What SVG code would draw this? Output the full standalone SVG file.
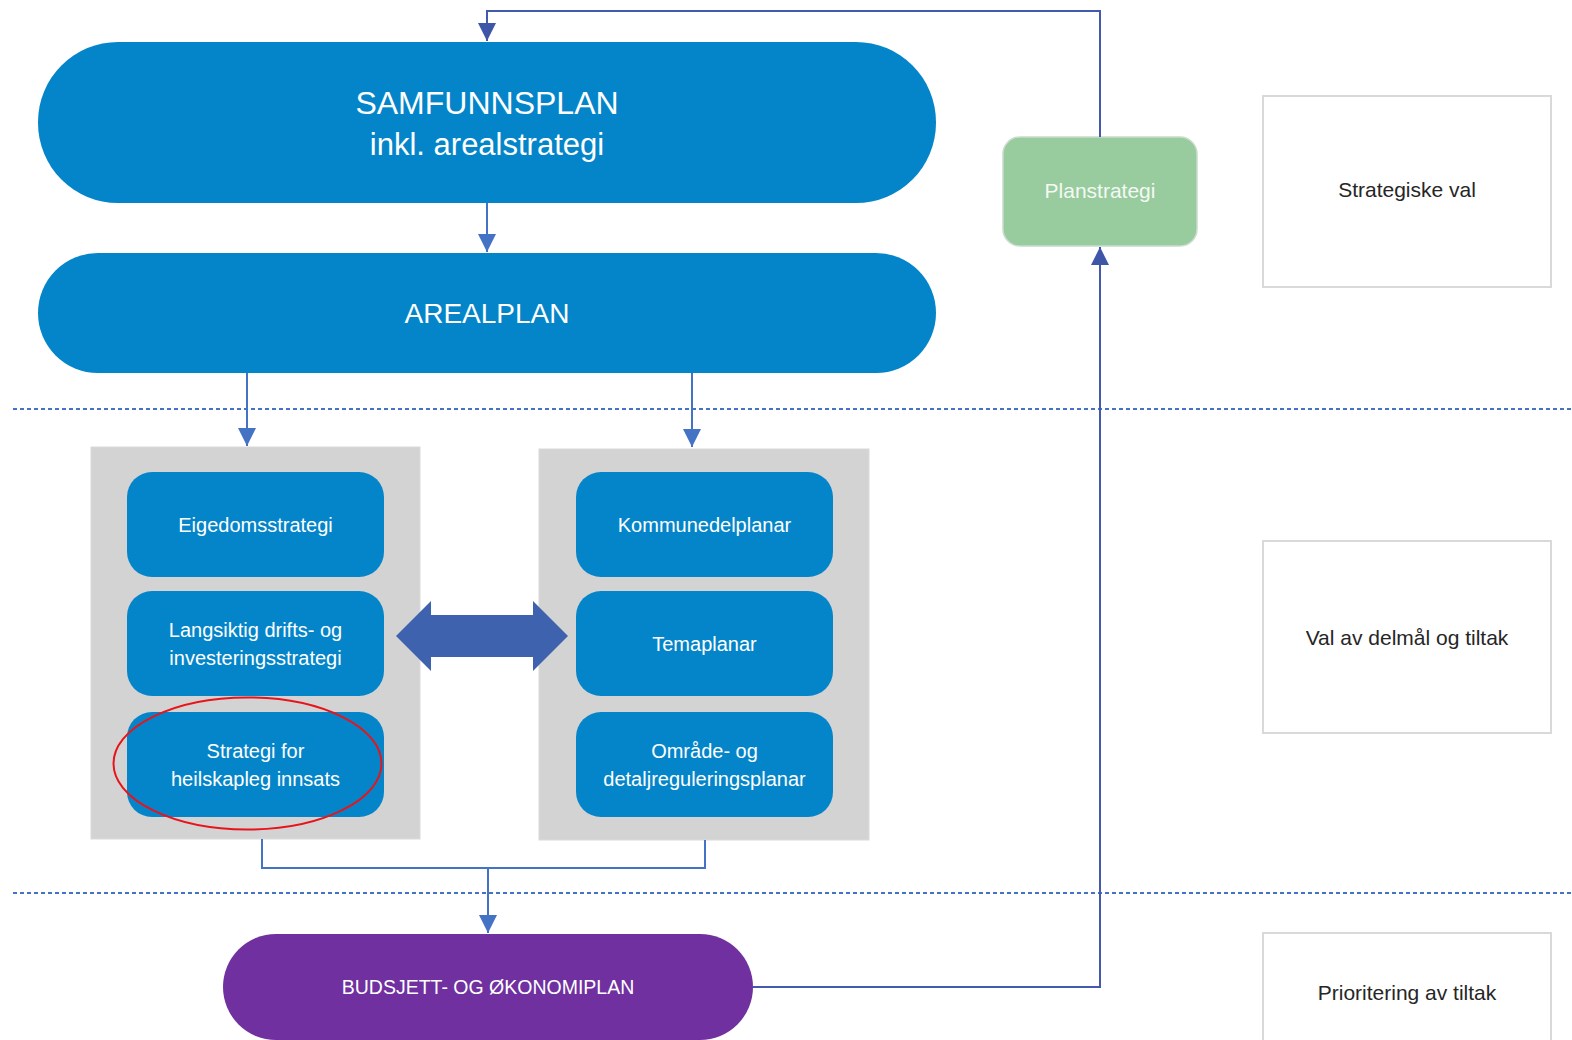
<svg xmlns="http://www.w3.org/2000/svg" width="1572" height="1040" viewBox="0 0 1572 1040">
<style>
text{font-family:"Liberation Sans",Arial,sans-serif;text-anchor:middle}
.pill{fill:#0485C9}
.inner{fill:#0485C9}
.grey{fill:#D3D3D3;stroke:#DADADA;stroke-width:1}
.wt{fill:#FFFFFF}
.info{fill:#FFFFFF;stroke:#D9D9D9;stroke-width:2}
.it{fill:#262626;font-size:21px}
.ib{font-size:20px}
.con{fill:none;stroke:#4472C4;stroke-width:2}
.loop{fill:none;stroke:#4259AE;stroke-width:2}
.dash{fill:none;stroke:#4472C4;stroke-width:2;stroke-dasharray:4 3}
</style>
<defs>
<marker id="ah" markerUnits="userSpaceOnUse" markerWidth="18" markerHeight="18" refX="18" refY="9" orient="auto"><path d="M0,0 L18,9 L0,18 z" fill="#4472C4"/></marker>
<marker id="ahd" markerUnits="userSpaceOnUse" markerWidth="18" markerHeight="18" refX="18" refY="9" orient="auto"><path d="M0,0 L18,9 L0,18 z" fill="#3F55A8"/></marker>
</defs>
<rect width="1572" height="1040" fill="#FFFFFF"/>

<g id="separators">
<line class="dash" x1="13" y1="409" x2="1572" y2="409"/>
<line class="dash" x1="13" y1="893" x2="1572" y2="893"/>
</g>

<g id="samfunnsplan">
<rect class="pill" x="38" y="42" width="898" height="161" rx="80" ry="80"/>
<text class="wt" x="487" y="114" font-size="32">SAMFUNNSPLAN</text>
<text class="wt" x="487" y="155" font-size="31">inkl. arealstrategi</text>
</g>

<g id="arealplan">
<rect class="pill" x="38" y="253" width="898" height="120" rx="60" ry="60"/>
<text class="wt" x="487" y="323" font-size="28">AREALPLAN</text>
</g>

<g id="planstrategi">
<rect x="1003" y="137" width="194" height="109" rx="17" fill="#98CB9E" stroke="#C9DCCB" stroke-width="1.5"/>
<text x="1100" y="198" font-size="21" fill="#F4F9F4">Planstrategi</text>
</g>

<g id="group-left">
<rect class="grey" x="91" y="447" width="329" height="392"/>
</g>
<g id="group-right">
<rect class="grey" x="539" y="449" width="330" height="391"/>
</g>

<g id="eigedomsstrategi">
<rect class="inner" x="127" y="472" width="257" height="105" rx="25"/>
<text class="wt ib" x="255.5" y="532">Eigedomsstrategi</text>
</g>
<g id="langsiktig">
<rect class="inner" x="127" y="591" width="257" height="105" rx="25"/>
<text class="wt ib" x="255.5" y="637">Langsiktig drifts- og</text>
<text class="wt ib" x="255.5" y="665">investeringsstrategi</text>
</g>
<g id="heilskapleg">
<rect class="inner" x="127" y="712" width="257" height="105" rx="25"/>
<text class="wt ib" x="255.5" y="758">Strategi for</text>
<text class="wt ib" x="255.5" y="786">heilskapleg innsats</text>
</g>
<g id="kommunedelplanar">
<rect class="inner" x="576" y="472" width="257" height="105" rx="25"/>
<text class="wt ib" x="704.5" y="532">Kommunedelplanar</text>
</g>
<g id="temaplanar">
<rect class="inner" x="576" y="591" width="257" height="105" rx="25"/>
<text class="wt ib" x="704.5" y="651">Temaplanar</text>
</g>
<g id="omrade">
<rect class="inner" x="576" y="712" width="257" height="105" rx="25"/>
<text class="wt ib" x="704.5" y="758">Område- og</text>
<text class="wt ib" x="704.5" y="786">detaljreguleringsplanar</text>
</g>

<g id="budsjett">
<rect x="223" y="934" width="530" height="106" rx="53" fill="#7030A0"/>
<text class="wt" x="488" y="994" font-size="19.5">BUDSJETT- OG ØKONOMIPLAN</text>
</g>

<g id="strategiske-val">
<rect class="info" x="1263" y="96" width="288" height="191"/>
<text class="it" x="1407" y="197">Strategiske val</text>
</g>
<g id="val-av-delmal">
<rect class="info" x="1263" y="541" width="288" height="192"/>
<text class="it" x="1407" y="645">Val av delmål og tiltak</text>
</g>
<g id="prioritering">
<rect class="info" x="1263" y="933" width="288" height="120"/>
<text class="it" x="1407" y="1000">Prioritering av tiltak</text>
</g>

<g id="connectors">
<path class="loop" d="M1100,137 V11 H487 V41" marker-end="url(#ahd)"/>
<path class="con" d="M487,203 V252" marker-end="url(#ah)"/>
<path class="con" d="M247,373 V446" marker-end="url(#ah)"/>
<path class="con" d="M692,373 V447" marker-end="url(#ah)"/>
<path class="con" d="M262,839 V868 H705 V840"/>
<path class="con" d="M488,868 V933" marker-end="url(#ah)"/>
<path class="loop" d="M753,987 H1100 V247" marker-end="url(#ahd)"/>
<polygon id="double-arrow" points="396,636 431,601 431,615 533,615 533,601 568,636 533,671 533,657 431,657 431,671" fill="#3E62AD"/>
</g>

<g id="highlight">
<ellipse cx="247.5" cy="763.5" rx="134" ry="66" fill="none" stroke="#E8141B" stroke-width="2"/>
</g>
</svg>
